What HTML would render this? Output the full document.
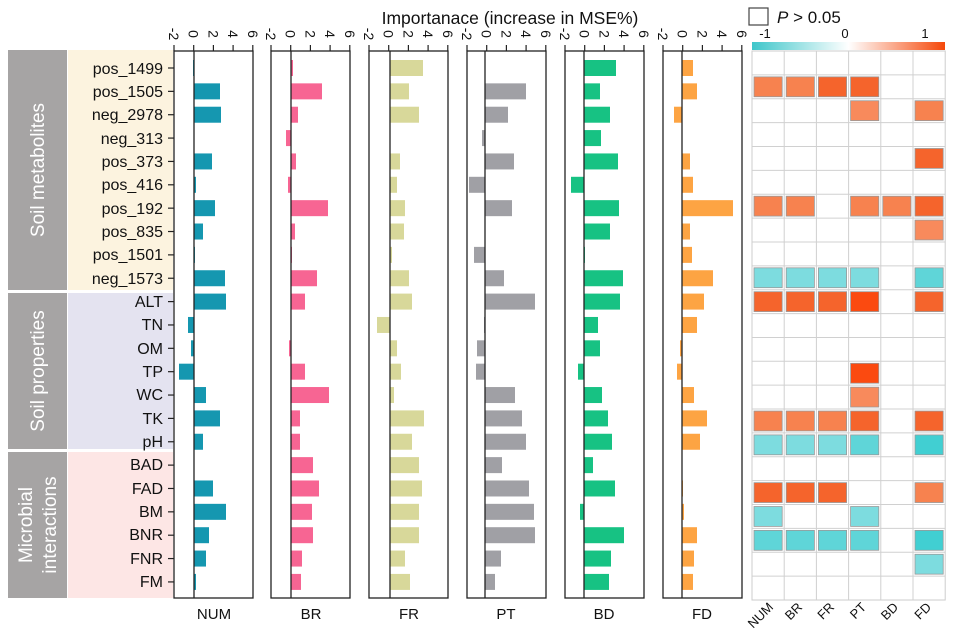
<!DOCTYPE html>
<html><head><meta charset="utf-8"><style>
html,body{margin:0;padding:0;background:#fff;}
svg{display:block;font-family:"Liberation Sans",Arial,sans-serif;}
</style></head><body>
<svg id="s" width="960" height="640" viewBox="0 0 960 640" xmlns="http://www.w3.org/2000/svg">
<defs>
<linearGradient id="cb" x1="0" x2="1" y1="0" y2="0">
<stop offset="0" stop-color="#3ec6ca"/><stop offset="0.5" stop-color="#ffffff"/><stop offset="1" stop-color="#f5480a"/>
</linearGradient>
</defs>
<rect x="8" y="50" width="59" height="240" fill="#a6a4a4"/>
<rect x="68" y="50" width="105" height="240" fill="#fcf3df"/>
<rect x="8" y="293" width="59" height="156" fill="#a6a4a4"/>
<rect x="68" y="293" width="105" height="156" fill="#e4e3f0"/>
<rect x="8" y="452" width="59" height="146" fill="#a6a4a4"/>
<rect x="68" y="452" width="105" height="146" fill="#fde6e5"/>
<g fill="#fff" font-size="19" text-anchor="middle">
<text transform="translate(44,170) rotate(-90)">Soil metabolites</text>
<text transform="translate(44,371) rotate(-90)">Soil properties</text>
<text transform="translate(32,525) rotate(-90)">Microbial</text>
<text transform="translate(56,525) rotate(-90)">interactions</text>
</g>
<g font-size="16" text-anchor="end" fill="#111">
<text x="163" y="74">pos_1499</text>
<text x="163" y="97">pos_1505</text>
<text x="163" y="120">neg_2978</text>
<text x="163" y="144">neg_313</text>
<text x="163" y="167">pos_373</text>
<text x="163" y="190">pos_416</text>
<text x="163" y="214">pos_192</text>
<text x="163" y="237">pos_835</text>
<text x="163" y="260">pos_1501</text>
<text x="163" y="284">neg_1573</text>
<text x="163" y="307">ALT</text>
<text x="163" y="330">TN</text>
<text x="163" y="354">OM</text>
<text x="163" y="377">TP</text>
<text x="163" y="400">WC</text>
<text x="163" y="424">TK</text>
<text x="163" y="447">pH</text>
<text x="163" y="470">BAD</text>
<text x="163" y="494">FAD</text>
<text x="163" y="517">BM</text>
<text x="163" y="540">BNR</text>
<text x="163" y="564">FNR</text>
<text x="163" y="587">FM</text>
</g>
<text x="510" y="24" font-size="17.5" text-anchor="middle" fill="#111">Importanace (increase in MSE%)</text>
<rect x="749" y="8" width="19" height="17" fill="#fff" stroke="#444" stroke-width="1.2"/>
<text x="777" y="23" font-size="17" fill="#111"><tspan font-style="italic">P</tspan> &gt; 0.05</text>
<rect x="752" y="42" width="193" height="8" fill="url(#cb)"/>
<g font-size="13" fill="#111" text-anchor="middle">
<text x="765" y="38">-1</text><text x="845" y="38">0</text><text x="925" y="38">1</text>
</g>
<g font-size="15" fill="#111" text-anchor="middle">
<text x="214" y="619">NUM</text><text x="311" y="619">BR</text><text x="409" y="619">FR</text>
<text x="506" y="619">PT</text><text x="604" y="619">BD</text><text x="702" y="619">FD</text>
</g>
<g font-size="13" fill="#111" text-anchor="end">
<text transform="translate(774,608) rotate(-45)">NUM</text>
<text transform="translate(803,608) rotate(-45)">BR</text>
<text transform="translate(835,608) rotate(-45)">FR</text>
<text transform="translate(867,608) rotate(-45)">PT</text>
<text transform="translate(899,608) rotate(-45)">BD</text>
<text transform="translate(932,608) rotate(-45)">FD</text>
</g>
<g id="dyn"></g>
</svg>
<script>
var NS="http://www.w3.org/2000/svg",g=document.getElementById("dyn");
function el(t,a){var e=document.createElementNS(NS,t);for(var k in a)e.setAttribute(k,a[k]);g.appendChild(e);return e;}
var zeros=[194,291,390,485,584,682],left=[174,271,369,467,565,663],cols=["#1597b0","#f76593","#d8d89a","#a0a0a5","#17c283","#fda443"];
var ends=[
[193,220,221,194,212,196,215,203,195,225,226,188,191,179,206,220,203,194,213,226,209,206,196],
[293,322,298,286,296,288,328,295,292,317,305,291,289,305,329,300,300,313,319,312,313,302,301],
[423,409,419,390,400,397,405,404,392,409,412,377,397,401,394,424,412,419,422,419,419,405,410],
[485,526,508,482,514,469,512,485,474,504,535,484,477,476,515,522,526,502,529,534,535,501,495],
[616,600,610,601,618,571,619,610,585,623,620,598,600,578,602,608,612,593,615,580,624,611,609],
[693,697,674,682,690,693,733,690,692,713,704,697,680,677,694,707,700,682,683,684,697,694,693]];
for(var p=0;p<6;p++){
 var z=zeros[p],L=left[p];
 for(var i=0;i<23;i++){var y=68+i*23.36,e=ends[p][i];
  if(Math.abs(e-z)>0){el("rect",{x:Math.min(e,z),y:y-8,width:Math.abs(e-z),height:16,fill:cols[p]});}
 }
 el("rect",{x:L,y:51,width:79,height:547,fill:"none",stroke:"#222","stroke-width":1.3});
 el("line",{x1:z,x2:z,y1:51,y2:598,stroke:"#222","stroke-width":1.3});
 for(var t=0;t<5;t++){var tx=L+t*19.7;el("line",{x1:tx,x2:tx,y1:45,y2:51,stroke:"#222","stroke-width":1.2});
  var tt=el("text",{transform:"translate("+(tx-5)+",34) rotate(90)","font-size":"14",fill:"#111","text-anchor":"middle"});tt.textContent=String(t*2-2);}
 if(p==0){for(var i=0;i<23;i++){var y=68+i*23.36;el("line",{x1:168,x2:174,y1:y,y2:y,stroke:"#222","stroke-width":1.2});}}
}
var hx=752,hy=51,cw=32.2,rh=23.87;
el("rect",{x:hx,y:hy,width:cw*6,height:rh*23,fill:"#fff",stroke:"#ccc"});
for(var c=1;c<6;c++)el("line",{x1:hx+c*cw,x2:hx+c*cw,y1:hy,y2:hy+rh*23,stroke:"#d0d0d0"});
for(var r=1;r<23;r++)el("line",{x1:hx,x2:hx+cw*6,y1:hy+r*rh,y2:hy+r*rh,stroke:"#d0d0d0"});
var O="#f7824f",D="#f5642c",R="#fb4a10",C="#7ddcdf",C2="#5fd5d8",C3="#41cfd2",OL="#f88a5c";
var cells={1:[O,O,D,D,0,0],2:[0,0,0,OL,0,O],4:[0,0,0,0,0,D],6:[O,O,0,O,O,D],7:[0,0,0,0,0,OL],
9:[C,C,C,C,0,C2],10:[D,D,D,R,0,D],13:[0,0,0,R,0,0],14:[0,0,0,OL,0,0],15:[O,O,O,D,0,D],
16:[C,C,C,C2,0,C3],18:[D,D,D,0,0,O],19:[C,0,0,C,0,0],20:[C2,C2,C2,C2,0,C3],21:[0,0,0,0,0,C]};
for(var r in cells)for(var c=0;c<6;c++){var v=cells[r][c];if(v)el("rect",{x:hx+c*cw+2,y:hy+r*rh+2,width:cw-4,height:rh-4,fill:v,stroke:"#999","stroke-width":0.8});}
</script>
</body></html>
